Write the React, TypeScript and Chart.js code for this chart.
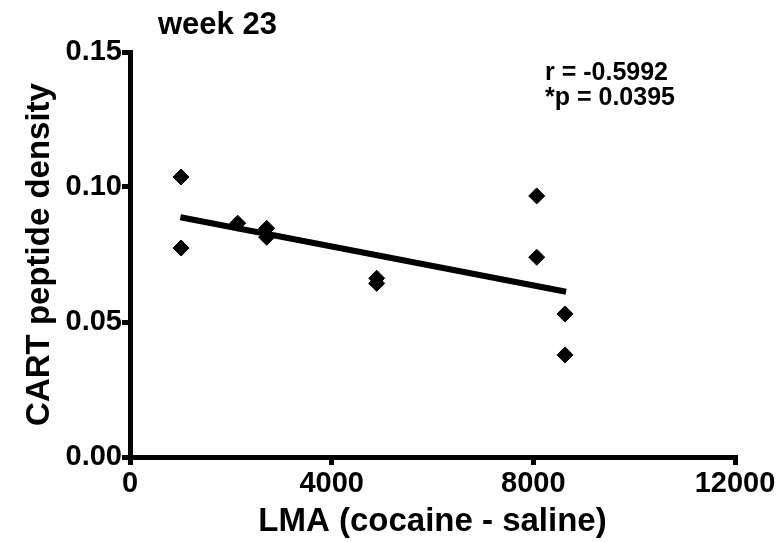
import React, { useEffect, useRef } from "react";
import { Chart, registerables } from "chart.js";

Chart.register(...registerables);

const xValues = [1012, 1012, 2136, 2711, 2711, 4893, 4893, 8067, 8067, 8628, 8628];
const yValues = [0.1037, 0.0774, 0.0866, 0.0847, 0.0814, 0.0662, 0.0643, 0.0967, 0.074, 0.053, 0.0378];
const fitX = [1000, 8650];
const fitY = [0.0888, 0.0612];
const xTicks = [0, 4000, 8000, 12000];
const yTicks = [0, 0.05, 0.1, 0.15];
const chartTitle = "week 23";
const statLines = ["r = -0.5992", "*p = 0.0395"];
const xTitle = "LMA (cocaine - saline)";
const yTitle = "CART peptide density";

const FONT = "'Liberation Sans', Arial, Helvetica, sans-serif";

const textPlugin = {
  id: "textPlugin",
  afterDraw(chart: any) {
    const ctx = chart.ctx;
    const { left } = chart.chartArea;
    ctx.save();
    ctx.fillStyle = "#000";
    ctx.textBaseline = "alphabetic";
    ctx.textAlign = "left";
    ctx.font = `bold 31px ${FONT}`;
    ctx.fillText(chartTitle, left + 28, 34);
    ctx.font = `bold 25px ${FONT}`;
    statLines.forEach((t, i) => ctx.fillText(t, left + 415, 80 + i * 25));
    ctx.restore();
  },
};

export default function App() {
  const ref = useRef<HTMLCanvasElement>(null);
  useEffect(() => {
    if (!ref.current) return;
    const points = xValues.map((x, i) => ({ x, y: yValues[i] }));
    const fit = fitX.map((x, i) => ({ x, y: fitY[i] }));
    const axisCommon = {
      grid: {
        drawOnChartArea: false,
        drawTicks: true,
        tickLength: 8,
        lineWidth: 5,
        color: "#000",
      },
      border: { color: "#000", width: 5 },
    };
    const chart = new Chart(ref.current, {
      type: "scatter",
      data: {
        datasets: [
          {
            data: points,
            pointStyle: "rectRot",
            pointRadius: 8,
            pointBackgroundColor: "#000",
            pointBorderColor: "#000",
            pointBorderWidth: 1,
            showLine: false,
          },
          {
            data: fit,
            showLine: true,
            pointRadius: 0,
            borderColor: "#000",
            borderWidth: 6,
            fill: false,
          },
        ],
      },
      options: {
        animation: false,
        responsive: false,
        layout: { padding: { top: 52, right: 45, left: 0, bottom: 0 } },
        plugins: {
          legend: { display: false },
          tooltip: { enabled: false },
          title: { display: false },
        },
        scales: {
          x: {
            type: "linear",
            min: 0,
            max: 12000,
            afterBuildTicks: (s: any) => {
              s.ticks = xTicks.map((v) => ({ value: v }));
            },
            afterFit: (s: any) => {
              s.height = 85;
            },
            ticks: {
              color: "#000",
              font: { family: FONT, size: 29, weight: "bold" },
              padding: 2,
              maxRotation: 0,
              callback: (v: any) => String(v),
            },
            title: {
              display: true,
              text: xTitle,
              color: "#000",
              font: { family: FONT, size: 33, weight: "bold" },
              padding: { top: 0, bottom: 0 },
            },
            ...axisCommon,
          },
          y: {
            type: "linear",
            min: 0,
            max: 0.15,
            afterBuildTicks: (s: any) => {
              s.ticks = yTicks.map((v) => ({ value: v }));
            },
            afterFit: (s: any) => {
              s.width = 130;
            },
            ticks: {
              color: "#000",
              font: { family: FONT, size: 29, weight: "bold" },
              padding: 0,
              callback: (v: any) => Number(v).toFixed(2),
            },
            title: {
              display: true,
              text: yTitle,
              color: "#000",
              font: { family: FONT, size: 33, weight: "bold" },
              padding: { top: 20, bottom: 0 },
            },
            ...axisCommon,
          },
        },
      },
      plugins: [textPlugin],
    });
    return () => chart.destroy();
  }, []);
  return (
    <div style={{ position: "fixed", left: 0, top: 0, width: 780, height: 542, background: "#fff" }}>
      <canvas ref={ref} width={780} height={542} />
    </div>
  );
}
